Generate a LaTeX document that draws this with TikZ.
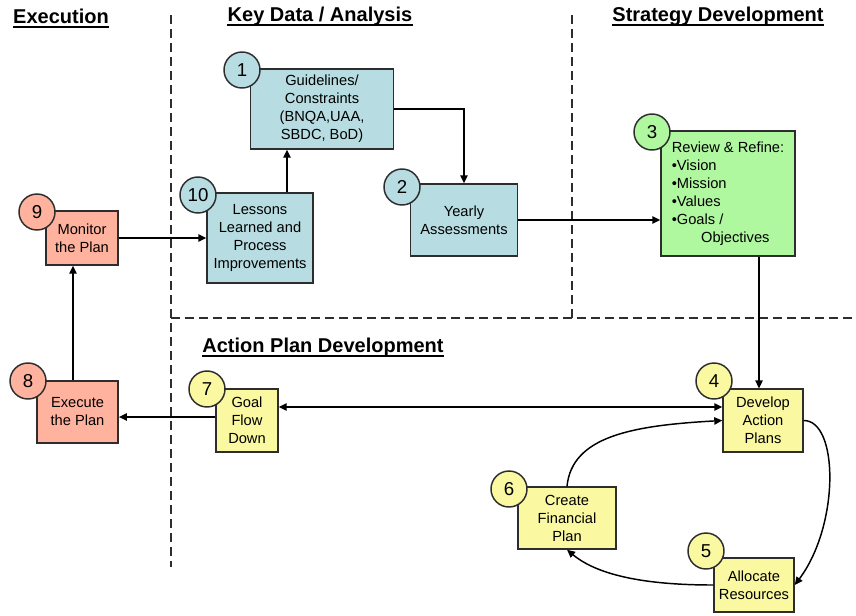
\documentclass[tikz,border=0pt]{standalone}
\usepackage{fontspec}
\setmainfont{Liberation Sans}
\usepackage{tikz}
\usetikzlibrary{arrows.meta}
\definecolor{keyblue}{RGB}{183,221,226}
\definecolor{execred}{RGB}{255,178,158}
\definecolor{planyellow}{RGB}{250,248,160}
\definecolor{stratgreen}{RGB}{176,248,160}
\definecolor{edgegray}{RGB}{45,45,45}
\tikzset{
  stepbox/.style={draw=edgegray, line width=1.1pt, align=center, inner sep=1pt,
    font=\fontsize{11}{13.5}\selectfont},
  numdisc/.style={circle, draw=edgegray, line width=1.1pt, minimum size=27pt,
    inner sep=0pt, font=\fontsize{14}{14}\selectfont},
  flow/.style={line width=1.1pt, -{Triangle[length=6pt,width=5.5pt]}},
  lane/.style={draw=edgegray, line width=0.9pt, dash pattern=on 6.75pt off 3.75pt},
  heading/.style={inner sep=0pt, font=\bfseries\fontsize{15}{17}\selectfont},
}

\begin{document}
\begin{tikzpicture}[x=0.75pt, y=-0.75pt]      % 1 unit = 1 px
    \useasboundingbox (0, 0) rectangle (856, 615);

    % lanes
    \draw[lane] (171, 15) -- (171, 567);
    \draw[lane] (572, 15) -- (572, 318);
    \draw[lane] (171, 318) -- (856, 318);

    \node[heading] at (61, 16) (exec) {Execution};
    \node[heading] at (320, 16) (keyd) {Key Data / Analysis};
    \node[heading] at (718, 16) (strat) {Strategy Development};
    \node[heading] at (323, 347) (actp) {Action Plan Development};
    \foreach \h in {exec, keyd, strat, actp}
      \draw[line width=1.5pt] ([yshift=-2.6pt]\h.base west) -- ([yshift=-2.6pt]\h.base east);

    % steps
    \node[stepbox, fill=keyblue, minimum width=107pt, minimum height=60pt] at (322, 109) (b1)
      {Guidelines/\\Constraints\\(BNQA,UAA,\\SBDC, BoD)};
    \node[stepbox, fill=keyblue, minimum width=80pt, minimum height=54pt] at (464, 220) (b2)
      {Yearly\\Assessments};
    \node[stepbox, fill=stratgreen, minimum width=100.5pt, minimum height=94pt, align=left] at (728, 193.5) (b3)
      {Review \& Refine:\\\textbullet Vision\\\textbullet Mission\\\textbullet Values\\\textbullet Goals /\\\hspace*{22pt}Objectives};
    \node[stepbox, fill=planyellow, minimum width=60pt, minimum height=47pt] at (763, 420.5) (b4)
      {Develop\\Action\\Plans};
    \node[stepbox, fill=planyellow, minimum width=60pt, minimum height=40.5pt] at (754, 585) (b5)
      {Allocate\\Resources};
    \node[stepbox, fill=planyellow, minimum width=73.5pt, minimum height=46.5pt] at (567, 518) (b6)
      {Create\\Financial\\Plan};
    \node[stepbox, fill=planyellow, minimum width=46.5pt, minimum height=47pt] at (247, 420.5) (b7)
      {Goal\\Flow\\Down};
    \node[stepbox, fill=execred, minimum width=61pt, minimum height=46.5pt] at (77.5, 412) (b8)
      {Execute\\the Plan};
    \node[stepbox, fill=execred, minimum width=54pt, minimum height=40.5pt] at (82, 238) (b9)
      {Monitor\\the Plan};
    \node[stepbox, fill=keyblue, minimum width=79.5pt, minimum height=67.5pt] at (260, 238) (b10)
      {Lessons\\Learned and\\Process\\Improvements};

    % numbers
    \node[numdisc, fill=keyblue] at (242, 70) (c1) {1};
    \node[numdisc, fill=keyblue] at (402, 187) (c2) {2};
    \node[numdisc, fill=stratgreen] at (652, 132) (c3) {3};
    \node[numdisc, fill=planyellow] at (714, 381) (c4) {4};
    \node[numdisc, fill=planyellow] at (706, 551) (c5) {5};
    \node[numdisc, fill=planyellow] at (509, 489) (c6) {6};
    \node[numdisc, fill=planyellow] at (207, 389) (c7) {7};
    \node[numdisc, fill=execred] at (28, 381) (c8) {8};
    \node[numdisc, fill=execred] at (37, 212) (c9) {9};
    \node[numdisc, fill=keyblue] at (198, 195) (c10) {10};

    \coordinate (j1) at (287, 0);
    \coordinate (j2) at (0, 407);
    \coordinate (j3) at (0, 417);
    \coordinate (j4) at (73, 0);
    \coordinate (j5) at (759, 0);

    \draw[flow] (b9.east) -- (b10.west);
    \draw[flow] (b10.north -| j1) -- (b1.south -| j1);
    \draw[flow] (b1.east) -| (b2.north);
    \draw[flow] (b2.east) -- (b2.east -| b3.west);
    \draw[flow] (b3.south -| j5) -- (b4.north -| j5);
    \draw[flow, {Triangle[length=6pt,width=5.5pt]}-{Triangle[length=6pt,width=5.5pt]}]
      (b7.east |- j2) -- (b4.west |- j2);
    \draw[flow] (b7.west |- j3) -- (b8.east |- j3);
    \draw[flow] (b8.north -| j4) -- (b9.south -| j4);

    % action plan loop
    \draw[flow] (b4.east) .. controls +(35, 0) and +(45, -60) .. (b5.east);
    \draw[flow] (b5.west) .. controls +(-70, 0) and +(30, 25) .. (b6.south);
    \draw[flow] (b6.north) .. controls +(5, -50) and +(-90, 5) .. (b4.west);
\end{tikzpicture}
\end{document}
